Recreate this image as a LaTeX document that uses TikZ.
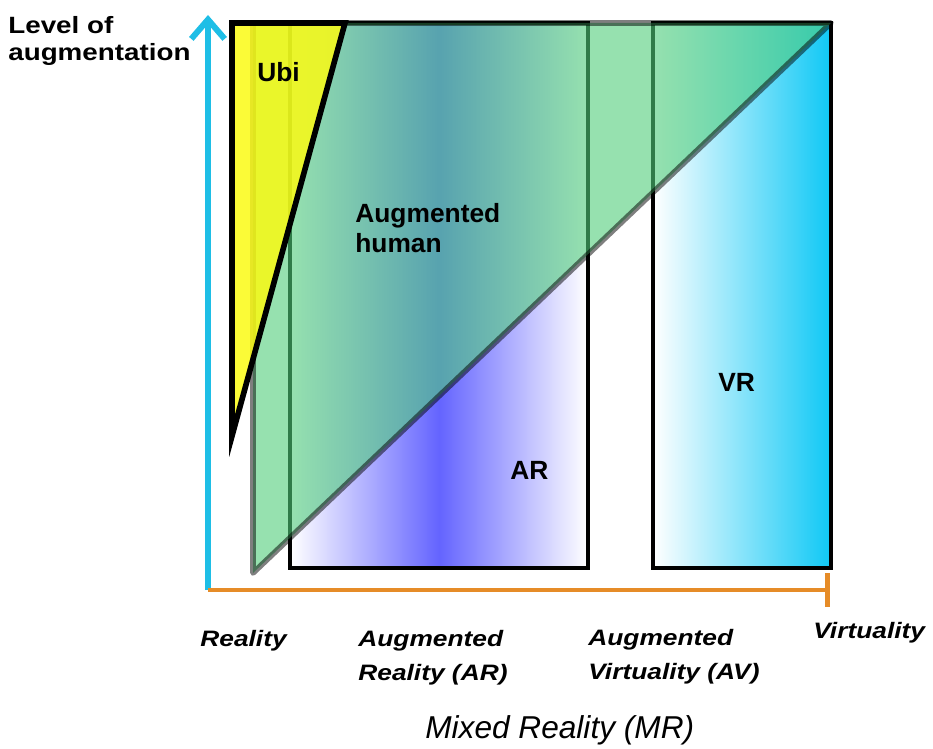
\documentclass[tikz,border=0pt]{standalone}
\usepackage{fontspec}
\setmainfont{Liberation Sans}
\newfontfamily\widefont[FakeStretch=1.18]{Liberation Sans}
\usetikzlibrary{arrows.meta}
\definecolor{arblue}{RGB}{100,100,255}
\definecolor{vrcyan}{RGB}{15,200,245}
\definecolor{humangreen}{RGB}{80,205,122}
\definecolor{ubiyellow}{RGB}{250,250,20}
\definecolor{yaxiscol}{RGB}{30,190,230}
\definecolor{xaxiscol}{RGB}{230,140,40}
\newcommand{\axisfont}{\widefont\bfseries\itshape\fontsize{12.7}{19}\selectfont}

\begin{document}
\begin{tikzpicture}[x=0.02cm,y=-0.02cm,inner sep=0pt,
  area/.style={font=\bfseries\fontsize{15}{17.5}\selectfont,anchor=base west,align=left},
  axis label/.style={font=\axisfont,anchor=base west,align=left},
  box/.style={draw=black,line width=1.8pt}]
\tikzstyle{human}=[fill=humangreen,fill opacity=0.6,draw=black,draw opacity=0.5,line width=3.2pt,line join=round]
\tikzstyle{ubi}=[fill=ubiyellow,fill opacity=0.85,draw=black,line width=3.2pt]
\useasboundingbox (0,0) rectangle (933,749);
\shade[left color=white,right color=white,middle color=arblue] (290,23) rectangle (588,568);
\shade[left color=white,right color=vrcyan] (653,23) rectangle (831,568);
\draw[box] (290,23) rectangle (588,568);
\draw[box] (653,23) rectangle (831,568);
\draw[human] (253,23) -- (831,23) -- (253,573) -- cycle;
\draw[ubi] (232,23) -- (345,23) -- (232,436) -- cycle;
\node[font=\widefont\bfseries\fontsize{13.4}{15.9}\selectfont,anchor=base west,align=left] (levellbl) at (8,61) {Level of\\augmentation};
\node[area] (ubilbl) at (257,82) {Ubi};
\node[area] (humanlbl) at (355,253) {Augmented\\human};
\node[area] (arlbl) at (510,480) {AR};
\node[area] (vrlbl) at (718,392) {VR};
\node[axis label] (reallbl) at (200,646) {Reality};
\node[axis label] (augrlbl) at (358,680) {Augmented\\Reality (AR)};
\node[axis label] (augvlbl) at (588,679) {Augmented\\Virtuality (AV)};
\node[axis label] (virtlbl) at (813,638) {Virtuality};
\node[font=\itshape\fontsize{18}{22}\selectfont,anchor=base west] (mrlbl) at (425,738) {Mixed Reality (MR)};
\coordinate (origin) at (208,590);
\coordinate (ytop) at (208,15);
\coordinate (xend) at (830,590);
\draw[yaxiscol,line width=3.4pt,-{Straight Barb[length=11pt,width=19pt]}] (origin) -- (ytop);
\draw[xaxiscol,line width=2.8pt,-{Bar[width=19pt]}] (origin) -- (xend);
\end{tikzpicture}
\end{document}
